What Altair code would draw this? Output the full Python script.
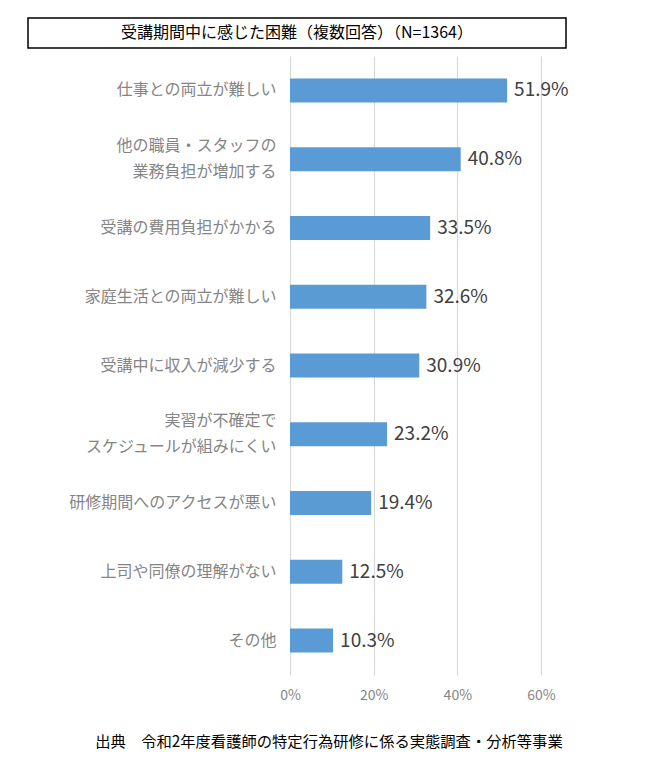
import altair as alt
import pandas as pd

categories = [
    "仕事との両立が難しい",
    "他の職員・スタッフの\n業務負担が増加する",
    "受講の費用負担がかかる",
    "家庭生活との両立が難しい",
    "受講中に収入が減少する",
    "実習が不確定で\nスケジュールが組みにくい",
    "研修期間へのアクセスが悪い",
    "上司や同僚の理解がない",
    "その他",
]
values = [51.9, 40.8, 33.5, 32.6, 30.9, 23.2, 19.4, 12.5, 10.3]

title_text = "受講期間中に感じた困難（複数回答）（N=1364）"
source_text = "出典　令和2年度看護師の特定行為研修に係る実態調査・分析等事業"

FONT = "Noto Sans CJK JP"

df = pd.DataFrame({"item": categories, "pct": values})
df["label"] = [f"{v}%" for v in values]

y_enc = alt.Y(
    "item:N",
    sort=None,
    title=None,
    axis=alt.Axis(
        domain=False,
        ticks=False,
        labelPadding=14,
        labelFontSize=16,
        labelColor="#858585",
        labelFont=FONT,
        labelLineHeight=26,
        labelLimit=300,
        labelExpr="split(datum.label, '\\n')",
        # two-line labels: centre the block on the bar
        labelOffset={
            "condition": {"test": "indexof(datum.value, '\\n') >= 0", "value": -13},
            "value": 0,
        },
    ),
)
x_enc = alt.X(
    "pct:Q",
    title=None,
    scale=alt.Scale(domain=[0, 60], nice=False),
    axis=alt.Axis(
        values=[0, 20, 40, 60],
        labelExpr="datum.value + '%'",
        labelFlush=False,
        domain=False,
        ticks=False,
        grid=True,
        gridColor="#d9d9d9",
        gridWidth=1.2,
        labelPadding=13,
        labelFontSize=14,
        labelColor="#858585",
        labelFont=FONT,
    ),
)

bars = alt.Chart(df).mark_bar(size=24, color="#5b9bd5").encode(x=x_enc, y=y_enc)

texts = (
    alt.Chart(df)
    .mark_text(align="left", dx=7, fontSize=19, color="#404040", font=FONT)
    .encode(x="pct:Q", y=alt.Y("item:N", sort=None), text="label:N")
)

deco = pd.DataFrame({"t": [title_text], "s": [source_text]})

box = (
    alt.Chart(deco)
    .mark_rect(fill="white", stroke="black", strokeWidth=1.5)
    .encode(
        x=alt.value(-262), x2=alt.value(276), y=alt.value(-38), y2=alt.value(-8)
    )
)
title = (
    alt.Chart(deco)
    .mark_text(fontSize=16, color="black", font=FONT, baseline="middle")
    .encode(x=alt.value(7), y=alt.value(-23), text="t:N")
)
source = (
    alt.Chart(deco)
    .mark_text(fontSize=15.3, color="black", font=FONT, baseline="middle")
    .encode(x=alt.value(39), y=alt.value(686), text="s:N")
)

chart = (
    alt.layer(bars, texts, box, title, source)
    .properties(
        width=251,
        height=619,
        autosize=alt.AutoSizeParams(type="none"),
        padding={"left": 282, "top": 48, "right": 100, "bottom": 80},
    )
    .configure_view(stroke=None)
)

chart.save("out.html", embed_options={"renderer": "svg", "actions": False})
